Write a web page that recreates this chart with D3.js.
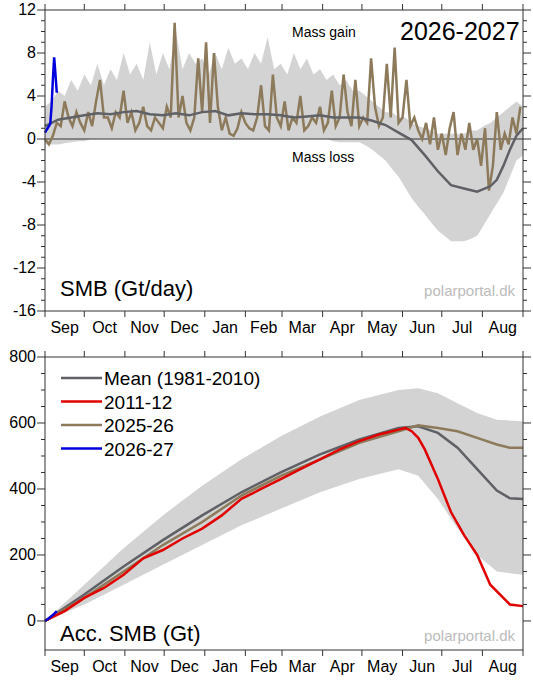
<!DOCTYPE html><html><head><meta charset="utf-8">
<script src="https://d3js.org/d3.v7.min.js"></script>
<style>body{margin:0;background:#fff}svg{font-family:"Liberation Sans",Arial,sans-serif}</style></head><body>
<svg id="c" width="533" height="680"></svg>
<script>
const months=["Sep","Oct","Nov","Dec","Jan","Feb","Mar","Apr","May","Jun","Jul","Aug"];
const monthStarts=[0,30,61,91,122,153,181,212,242,273,303,334,365];
const dTicks=[12,8,4,0,-4,-8,-12,-16];
const aTicks=[0,200,400,600,800];
// daily SMB (Gt/day), band every 5 days
const bandHi=[3,3.5,4.5,4,5.5,4.5,6,5,7,5,6.5,5.5,8,6,7,5.5,9,6,8,6.5,10,6.5,8,7,7.5,6,8,6.5,8.5,7,7.5,6.5,8,7,9.5,6.5,7,6,8,6.5,7.5,6,6.5,5.5,6,5,5.5,4.5,4.5,4,3.5,3,2.5,2.5,2,2,1.5,1.2,1,0.8,0.5,0.5,0.5,0.5,0.5,0.8,0.8,1.2,1.5,2,2.5,3,3.5,3];
const bandLo=[-0.5,-0.5,-0.5,-0.4,-0.3,-0.2,-0.2,0,0,0,0,0,0,0,0,0,0,0,0,0,0,0,0,0,0,0,0,0,0,0,0,0,0,0,0,0,0,0,0,0,0,0,0,0,-0.2,-0.3,-0.3,-0.3,-0.3,-0.6,-1,-1.5,-2,-2.8,-3.5,-4.5,-5.5,-6.3,-7,-7.8,-8.5,-9,-9.5,-9.5,-9.5,-9.3,-9,-8,-7,-6,-5,-3.5,-2,-1.5];
const meanDays=[0,10,20,30,40,50,60,70,80,90,100,110,120,130,140,150,160,170,180,190,200,210,220,230,240,250,260,270,280,290,300,310,320,330,340,345,350,355,360,365];
const meanVal=[1.2,1.8,2.0,2.2,2.4,2.3,2.5,2.6,2.3,2.2,2.4,2.2,2.5,2.6,2.2,2.4,2.3,2.3,2.2,2.0,2.1,2.2,2.0,2.0,2.0,1.7,1.3,0.6,-0.1,-1.5,-3.0,-4.3,-4.6,-4.9,-4.4,-3.8,-2.5,-1.0,0.3,1.0];
const y2526=[0,-0.5,0.3,1.5,1.2,3.5,2,1.2,2.5,1.5,0.8,2.5,1.2,3.5,5.5,2,2,1,2.5,2,4.5,1.5,2.5,0.8,1.5,3,1.2,0.8,2,1.5,1,3,2,10.8,2,4,1.5,0.8,2,7.5,2.5,9,1.5,8,3,0.8,2,0.5,0.3,1,2.5,1.5,1,0.8,2,5,1.2,0.8,6,2,1.2,3.5,0.8,2,1.5,4,0.8,1.2,2,1.5,3,0.8,1.5,4.5,1.2,2,6,2.5,1.2,5.5,1.2,2,1.5,7.5,3,1.2,2,7,2,8.5,1.5,2,5.5,1.2,2,0.8,0,1.5,-0.5,2,-1,0.5,-1.5,1,2.5,-1.5,0.5,-1,1.5,-1,0,-2.5,1,-4.8,-2.5,2.5,-1,0.5,-0.5,2,0.5,3];
const blueDays=[0,1,2,3,4,5,6,7,8,9];
const blueVal=[0.6,0.8,1.0,1.2,1.4,3,5.5,7.6,6,4.3];
// accumulated SMB (Gt)
const accBandDays=[0,30,60,90,120,150,180,210,240,270,285,300,315,330,345,365];
const accHi=[0,110,220,320,410,490,560,620,670,700,705,690,660,630,610,605];
const accLo=[0,50,110,170,230,290,340,390,430,460,440,370,280,200,150,140];
const accMeanDays=[0,30,60,90,120,150,180,210,240,270,285,300,315,330,345,355,365];
const accMean=[0,80,165,245,320,390,450,505,550,585,590,570,525,460,395,372,370];
const acc2526=[0,70,150,230,300,380,440,490,540,575,593,585,575,555,535,525,525];
const redDays=[0,15,30,45,60,75,90,105,120,135,150,165,180,195,210,225,240,255,270,275,280,285,290,300,310,320,330,340,350,355,365];
const red1112=[0,30,70,100,140,190,215,250,280,320,370,400,430,460,490,520,545,565,580,585,575,555,520,430,330,260,200,110,70,50,45];
const accBlueDays=[0,3,6,9];
const accBlue=[0,8,18,30];

const svg=d3.select("#c");
const x=d3.scaleLinear().domain([0,365]).range([45,523]);
const gray="#d3d3d3",meanC="#5f6166",brown="#8c7a5b";
function frame(y,top,bot,ticks,minor){
  const g=svg.append("g");
  g.append("rect").attr("x",45).attr("y",top).attr("width",478).attr("height",bot-top).attr("fill","none").attr("stroke","#333").attr("stroke-width",1);
  monthStarts.forEach(d=>{[top,bot].forEach((yy,i)=>g.append("line").attr("x1",x(d)).attr("x2",x(d)).attr("y1",yy).attr("y2",i?yy+6:yy-6).attr("stroke","#333"));});
  months.forEach((m,i)=>g.append("text").attr("x",(x(monthStarts[i])+x(monthStarts[i+1]))/2).attr("y",bot+22).attr("text-anchor","middle").attr("font-size",16).text(m));
  minor.forEach(v=>{const yy=y(v);const L=ticks.includes(v)?8:4;g.append("line").attr("x1",45).attr("x2",45-L).attr("y1",yy).attr("y2",yy).attr("stroke","#333");g.append("line").attr("x1",523).attr("x2",523+L).attr("y1",yy).attr("y2",yy).attr("stroke","#333");});
  ticks.forEach(v=>g.append("text").attr("x",36).attr("y",y(v)+5).attr("text-anchor","end").attr("font-size",16).text(v));
}
const y1=d3.scaleLinear().domain([-16,12]).range([311,10]);
const area=(xs,hi,lo,y)=>d3.area().x((d,i)=>x(xs[i])).y0((d,i)=>y(lo[i])).y1((d,i)=>y(hi[i]))(hi);
const line=(xs,vs,y)=>d3.line().x((d,i)=>x(xs[i])).y(d=>y(d))(vs);
const bandDays=bandHi.map((d,i)=>Math.min(365,i*5));
svg.append("path").attr("d",area(bandDays,bandHi,bandLo,y1)).attr("fill",gray);
svg.append("line").attr("x1",45).attr("x2",523).attr("y1",y1(0)).attr("y2",y1(0)).attr("stroke","#333");
const d2526=y2526.map((d,i)=>Math.min(365,i*3));
svg.append("path").attr("d",line(d2526,y2526,y1)).attr("fill","none").attr("stroke",brown).attr("stroke-width",2.5);
svg.append("path").attr("d",line(meanDays,meanVal,y1)).attr("fill","none").attr("stroke",meanC).attr("stroke-width",2.5);
svg.append("path").attr("d",line(blueDays,blueVal,y1)).attr("fill","none").attr("stroke","#0000dd").attr("stroke-width",2.5);
frame(y1,10,311,dTicks,d3.range(-16,13,1));
svg.append("text").attr("x",292).attr("y",37).attr("font-size",14).text("Mass gain");
svg.append("text").attr("x",292).attr("y",162).attr("font-size",14).text("Mass loss");
svg.append("text").attr("x",400).attr("y",40).attr("font-size",25).text("2026-2027");
svg.append("text").attr("x",60).attr("y",296).attr("font-size",22).text("SMB (Gt/day)");
svg.append("text").attr("x",515).attr("y",296).attr("text-anchor","end").attr("font-size",15).attr("fill","#bbb").text("polarportal.dk");
const y2=d3.scaleLinear().domain([-88,800]).range([650,357]);
svg.append("path").attr("d",area(accBandDays,accHi,accLo,y2)).attr("fill",gray);
svg.append("path").attr("d",line(accMeanDays,accMean,y2)).attr("fill","none").attr("stroke",meanC).attr("stroke-width",2.5);
svg.append("path").attr("d",line(accMeanDays,acc2526,y2)).attr("fill","none").attr("stroke",brown).attr("stroke-width",2.5);
svg.append("path").attr("d",line(redDays,red1112,y2)).attr("fill","none").attr("stroke","#e00000").attr("stroke-width",2.5);
svg.append("path").attr("d",line(accBlueDays,accBlue,y2)).attr("fill","none").attr("stroke","#0000dd").attr("stroke-width",2.5);
frame(y2,357,650,aTicks,d3.range(0,801,50));
const leg=[["Mean (1981-2010)",meanC],["2011-12","#e00000"],["2025-26",brown],["2026-27","#0000dd"]];
leg.forEach((l,i)=>{const yy=378+i*23.5;svg.append("line").attr("x1",61).attr("x2",102).attr("y1",yy).attr("y2",yy).attr("stroke",l[1]).attr("stroke-width",2.5);svg.append("text").attr("x",104).attr("y",yy+7).attr("font-size",19).text(l[0]);});
svg.append("text").attr("x",60).attr("y",641).attr("font-size",22).text("Acc. SMB (Gt)");
svg.append("text").attr("x",515).attr("y",641).attr("text-anchor","end").attr("font-size",15).attr("fill","#bbb").text("polarportal.dk");
</script></body></html>
